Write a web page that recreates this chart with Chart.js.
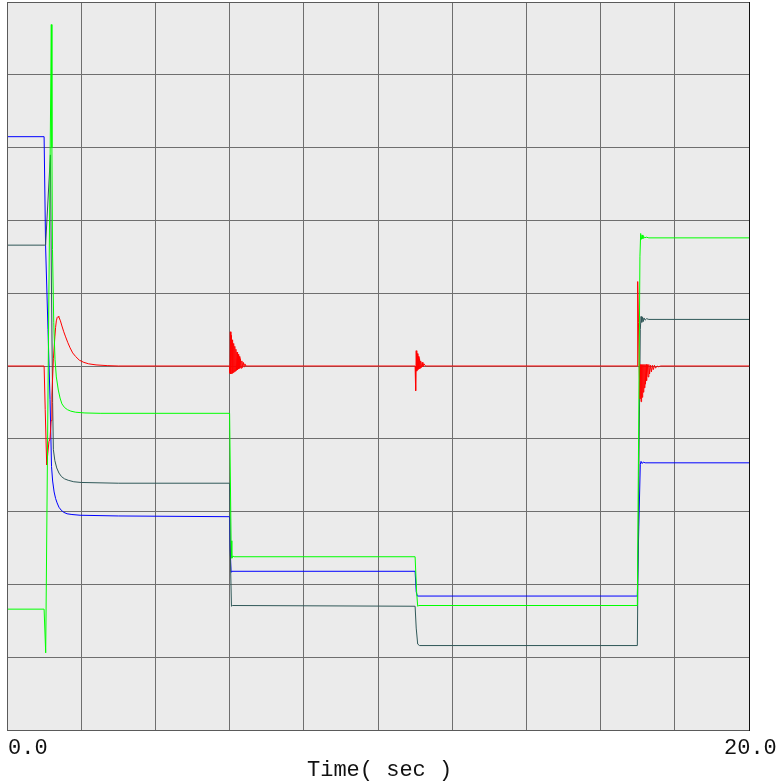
<!DOCTYPE html>
<html>
<head>
<meta charset="utf-8">
<script src="https://cdn.jsdelivr.net/npm/chart.js@4/dist/chart.umd.min.js"></script>
<style>
  html, body { margin: 0; padding: 0; background: #fff; }
  #wrap { width: 778px; height: 784px; }
</style>
</head>
<body>
<div id="wrap"><canvas id="chart"></canvas></div>
<script>
// time range (sec) and end labels
const xRange = [0, 20];
const xLabels = ['0.0', '20.0'];
const xTitle = 'Time( sec )';

// [time, value] samples, y in grid divisions (-5..5)
const red = [
  [0, 0], [1.0, 0], [1.03, -0.6], [1.07, -1.36], [1.1, -1.2], [1.13, -1.04], [1.16, -1.0],
  [1.19, -0.75], [1.21, -0.4], [1.25, 0.1], [1.29, 0.4], [1.31, 0.53], [1.33, 0.62], [1.355, 0.67],
  [1.375, 0.68], [1.4, 0.67], [1.44, 0.62], [1.48, 0.55], [1.53, 0.47], [1.58, 0.4], [1.64, 0.32],
  [1.7, 0.25], [1.77, 0.18], [1.85, 0.13], [1.95, 0.08], [2.07, 0.05], [2.2, 0.03], [2.4, 0.015],
  [2.7, 0.005], [3.0, 0],
  [6.0, 0], [6.01, -0.1], [6.02, 0.47], [6.035, -0.11], [6.05, 0.42], [6.065, -0.1], [6.08, 0.36],
  [6.095, -0.09], [6.11, 0.31], [6.125, -0.08], [6.14, 0.27], [6.155, -0.07], [6.17, 0.23],
  [6.185, -0.06], [6.2, 0.19], [6.215, -0.05], [6.23, 0.16], [6.245, -0.04], [6.26, 0.13],
  [6.275, -0.03], [6.29, 0.1], [6.31, -0.03], [6.33, 0.07], [6.35, -0.02], [6.37, 0.05],
  [6.39, -0.01], [6.41, 0.03], [6.44, 0],
  [11.0, 0], [11.015, -0.34], [11.03, 0.21], [11.045, -0.07], [11.06, 0.17], [11.075, -0.05],
  [11.09, 0.13], [11.105, -0.04], [11.12, 0.1], [11.135, -0.03], [11.15, 0.07], [11.17, -0.02],
  [11.19, 0.05], [11.21, -0.01], [11.24, 0.03], [11.28, 0],
  [16.99, 0], [17.0, 1.16], [17.02, 0.6], [17.04, 0], [17.06, -0.45], [17.075, 0.02], [17.09, -0.49],
  [17.105, 0.02], [17.12, -0.43], [17.135, 0.02], [17.15, -0.36], [17.165, 0.02], [17.18, -0.3],
  [17.195, 0.02], [17.21, -0.25], [17.225, 0.02], [17.24, -0.2], [17.26, 0.02], [17.28, -0.15],
  [17.3, 0.02], [17.32, -0.11], [17.345, 0.01], [17.37, -0.08], [17.395, 0.01], [17.42, -0.05],
  [17.45, 0.01], [17.48, -0.03], [17.52, 0], [17.56, -0.01], [17.62, 0], [20, 0]
];

const blue = [
  [0, 3.15], [1.0, 3.15], [1.04, 1.65], [1.105, 0.5], [1.16, -0.46], [1.2, -1.38], [1.23, -1.58],
  [1.27, -1.73], [1.31, -1.82], [1.35, -1.88], [1.4, -1.94], [1.46, -1.98], [1.53, -2.01],
  [1.62, -2.03], [1.75, -2.04], [1.97, -2.05], [3.0, -2.06], [6.0, -2.07],
  [6.015, -2.5], [6.04, -2.83], [6.06, -2.82], [11.0, -2.82], [11.03, -3.1], [11.06, -3.16],
  [16.99, -3.16], [17.03, -2.2], [17.07, -1.35], [17.09, -1.31], [17.12, -1.34], [17.15, -1.32],
  [17.2, -1.33], [20, -1.33]
];

const teal = [
  [0, 1.66], [1.0, 1.66], [1.04, 1.66], [1.17, 2.9], [1.2, 1.0], [1.23, -0.5], [1.25, -1.15],
  [1.29, -1.3], [1.34, -1.4], [1.4, -1.47], [1.47, -1.52], [1.55, -1.55], [1.65, -1.57],
  [1.8, -1.59], [2.0, -1.6], [3.0, -1.61], [6.0, -1.61], [6.02, -2.6],
  [6.05, -3.3], [6.08, -3.29], [11.0, -3.3], [11.03, -3.6], [11.07, -3.82], [11.12, -3.84],
  [16.99, -3.84], [17.03, -1.5], [17.07, 0.5], [17.09, 0.68], [17.11, 0.6], [17.13, 0.67],
  [17.15, 0.61], [17.17, 0.66], [17.2, 0.63], [17.24, 0.65], [17.3, 0.64], [20, 0.64]
];

const green = [
  [0, -3.34], [1.0, -3.34], [1.043, -3.94], [1.194, 4.69], [1.21, 3.0], [1.226, 1.6], [1.26, 0.6],
  [1.294, 0.09], [1.33, -0.15], [1.383, -0.33], [1.43, -0.44], [1.48, -0.52], [1.55, -0.57],
  [1.63, -0.6], [1.72, -0.62], [1.85, -0.635], [2.1, -0.645], [2.51, -0.65], [6.0, -0.65],
  [6.04, -2.4], [6.06, -2.64], [6.09, -2.61], [6.12, -2.62], [11.0, -2.62], [11.04, -3.1],
  [11.07, -3.3], [11.1, -3.29], [16.99, -3.29], [17.06, 1.5], [17.08, 1.82], [17.1, 1.74],
  [17.12, 1.8], [17.14, 1.75], [17.16, 1.78], [17.19, 1.76], [17.23, 1.77], [17.3, 1.76], [20, 1.76]
];

const toXY = arr => arr.map(p => ({ x: p[0], y: p[1] }));

const plotFrame = {
  id: 'plotFrame',
  beforeDraw(chart) {
    const { ctx, chartArea: a } = chart;
    ctx.save();
    ctx.fillStyle = '#ebebeb';
    ctx.fillRect(a.left, a.top, a.right - a.left, a.bottom - a.top);
    ctx.restore();
  },
  afterDraw(chart) {
    const { ctx, chartArea: a } = chart;
    ctx.save();
    ctx.lineWidth = 1;
    ctx.strokeStyle = '#5a5a5a';
    ctx.strokeRect(a.left + 0.5, a.top + 0.5, a.right - a.left, a.bottom - a.top);
    ctx.strokeStyle = '#111';
    ctx.beginPath();
    ctx.moveTo(a.right + 0.5, a.top);
    ctx.lineTo(a.right + 0.5, a.bottom + 1);
    ctx.stroke();
    // axis labels
    ctx.fillStyle = '#111';
    ctx.font = '22px "Liberation Mono", "DejaVu Sans Mono", monospace';
    ctx.textBaseline = 'alphabetic';
    ctx.textAlign = 'left';
    ctx.fillText(xLabels[0], a.left + 1, 754);
    ctx.fillText(xLabels[1], a.right - 25, 754);
    ctx.fillText(xTitle, 307, 776);
    ctx.restore();
  }
};

new Chart(document.getElementById('chart'), {
  type: 'line',
  data: {
    datasets: [
      { data: toXY(green), borderColor: '#00ff00' },
      { data: toXY(red), borderColor: '#ff0000' },
      { data: toXY(teal), borderColor: '#2f5858' },
      { data: toXY(blue), borderColor: '#0000ff' }
    ]
  },
  options: {
    responsive: true,
    maintainAspectRatio: false,
    animation: false,
    datasets: {
      line: { borderWidth: 1, pointRadius: 0, tension: 0, fill: false }
    },
    layout: { padding: { left: 7, top: 2, right: 29, bottom: 54 } },
    plugins: { legend: { display: false }, tooltip: { enabled: false } },
    scales: {
      x: {
        type: 'linear',
        min: xRange[0],
        max: xRange[1],
        ticks: { stepSize: 2, display: false },
        grid: { color: '#6e6e6e', drawTicks: false },
        border: { display: false },
        afterFit: s => { s.height = 0; }
      },
      y: {
        min: -5,
        max: 5,
        ticks: { stepSize: 1, display: false },
        grid: { color: '#6e6e6e', drawTicks: false },
        border: { display: false },
        afterFit: s => { s.width = 0; }
      }
    }
  },
  plugins: [plotFrame]
});
</script>
</body>
</html>
